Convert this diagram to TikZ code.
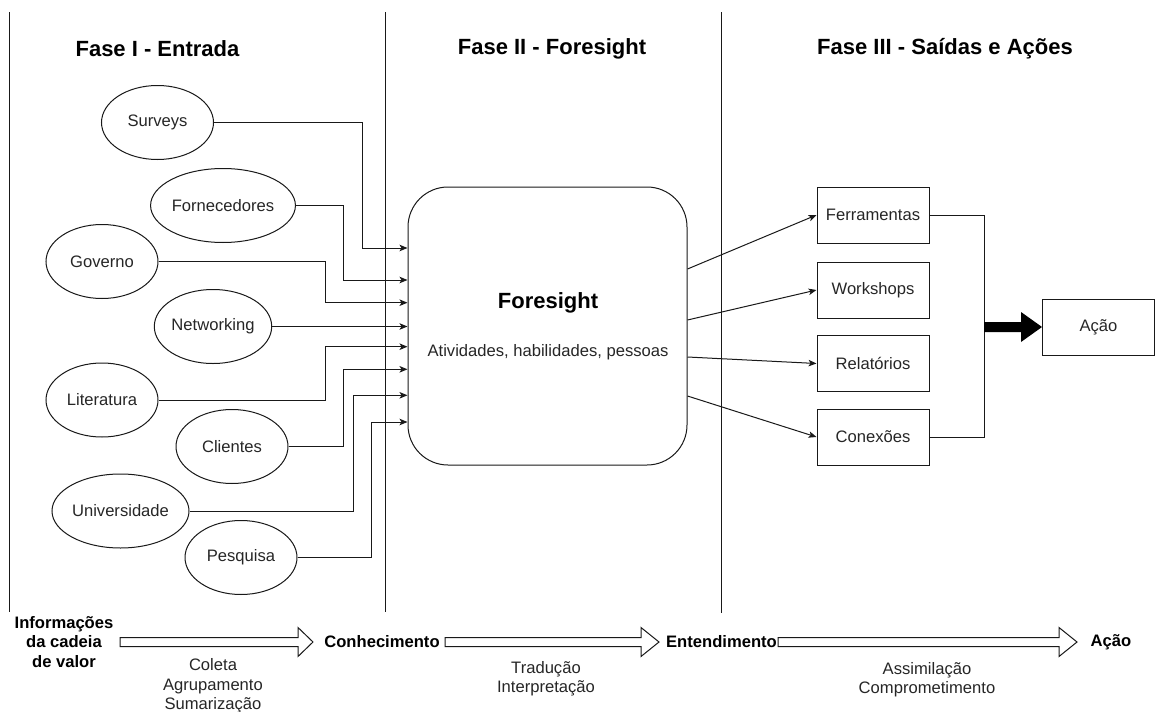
\documentclass[tikz,border=0pt]{standalone}
\usepackage{fontspec}
\setmainfont{Liberation Sans}
\usetikzlibrary{shapes.geometric,arrows.meta}
\definecolor{txt}{RGB}{38,38,38}
\definecolor{line}{RGB}{25,25,25}
\begin{document}
\begin{tikzpicture}[x=1pt,y=-1pt,
  every node/.style={font=\fontsize{16.6}{19.5}\selectfont, text=txt},
  ent/.style={draw=line, line width=1pt, ellipse, minimum width=112pt, minimum height=74pt, inner sep=0pt},
  outbox/.style={draw=line, line width=1pt, rectangle, minimum width=112pt, minimum height=56pt, inner sep=0pt},
  conn/.style={draw=line, line width=1pt, -{Stealth[length=8pt,width=6.5pt,inset=2pt]}},
  phase/.style={font=\fontsize{22}{26}\selectfont\bfseries, text=black},
  stage/.style={font=\fontsize{16.6}{19.5}\selectfont\bfseries, text=black, align=center},
  note/.style={align=center},
  sep/.style={draw=line, line width=1pt},
  hollow/.style={draw=line, line width=1pt, fill=white},
]
\useasboundingbox (0,0) rectangle (1170,712);

% phase separators
\draw[sep] (9,12) -- (9,612);
\draw[sep] (385,12) -- (385,612);
\draw[sep] (721,12) -- (721,613);

% phase titles
\node[phase] (t1) at (157.5,49) {Fase I - Entrada};
\node[phase] (t2) at (552,49) {Fase II - Foresight};
\node[phase] (t3) at (945,49) {Fase III - Saídas e Ações};

% input sources
\node[ent] (sur) at (157.5,122.5) {Surveys};
\node[ent] (for) at (223,205.5) {Fornecedores};
\node[ent] (gov) at (102,261.5) {Governo};
\node[ent] (net) at (213,326.5) {Networking};
\node[ent] (lit) at (102,400) {Literatura};
\node[ent] (cli) at (232,446.5) {Clientes};
\node[ent] (uni) at (120.5,511) {Universidade};
\node[ent] (pes) at (241,557.5) {Pesquisa};

% central foresight block
\node[draw=line, line width=1pt, rounded corners=40pt, minimum width=279pt, minimum height=278pt, inner sep=0pt] (fs) at (547.5,326) {};
\node[font=\fontsize{22}{26}\selectfont\bfseries, text=black] (fst) at (548,303) {Foresight};
\node (fsa) at (548,352) {Atividades, habilidades, pessoas};

% inputs into foresight
\draw[conn] (sur.east) -| (362,248) -- (fs.west |- 0,248);
\draw[conn] (for.east) -| (343,280) -- (fs.west |- 0,280);
\draw[conn] (gov.east) -| (325,302.7) -- (fs.west |- 0,302.7);
\draw[conn] (net.east) -- (fs.west |- net.east);
\draw[conn] (lit.east) -| (325,346.7) -- (fs.west |- 0,346.7);
\draw[conn] (cli.east) -| (343,369.3) -- (fs.west |- 0,369.3);
\draw[conn] (uni.east) -| (353,395.3) -- (fs.west |- 0,395.3);
\draw[conn] (pes.east) -| (371.7,422) -- (fs.west |- 0,422);

% outputs
\node[outbox] (fer) at (873,215) {Ferramentas};
\node[outbox] (wor) at (873,290) {Workshops};
\node[outbox] (rel) at (873,363.5) {Relatórios};
\node[outbox] (cnx) at (873,437) {Conexões};
\node[outbox] (aca) at (1098.5,327) {Ação};

\draw[conn] (fs.east |- 0,269) -- (fer.west);
\draw[conn] (fs.east |- 0,320) -- (wor.west);
\draw[conn] (fs.east |- 0,357) -- (rel.west);
\draw[conn] (fs.east |- 0,396) -- (cnx.west);

% bracket joining outputs, and the block arrow to action
\coordinate (jn) at (984,327);
\draw[draw=line, line width=1pt] (fer.east) -| (jn |- cnx.east) -- (cnx.east);
\fill[black] (jn |- 0,322) -- (1021,322) -- (1021,312) -- (aca.west |- 0,327) -- (1021,342) -- (1021,332) -- (jn |- 0,332) -- cycle;

% value chain along the bottom
\node[stage] (s0) at (64,642) {Informações\\da cadeia\\de valor};
\node[stage] (s1) at (382,642) {Conhecimento};
\node[stage] (s2) at (721.5,642) {Entendimento};
\node[stage] (s3) at (1111,642) {Ação};

\draw[hollow] (120,637.5) -- (298,637.5) -- (298,627.5) -- (313,642) -- (298,656.5) -- (298,646.5) -- (120,646.5) -- cycle;
\draw[hollow] (445,637.5) -- (641,637.5) -- (641,627.5) -- (659,642) -- (641,656.5) -- (641,646.5) -- (445,646.5) -- cycle;
\draw[hollow] (778,637.5) -- (1059,637.5) -- (1059,627.5) -- (1077,642) -- (1059,656.5) -- (1059,646.5) -- (778,646.5) -- cycle;

\node[note] (n1) at (213,686) {Coleta\\Agrupamento\\Sumarização};
\node[note] (n2) at (546,678.5) {Tradução\\Interpretação};
\node[note] (n3) at (927,679.5) {Assimilação\\Comprometimento};
\end{tikzpicture}
\end{document}
